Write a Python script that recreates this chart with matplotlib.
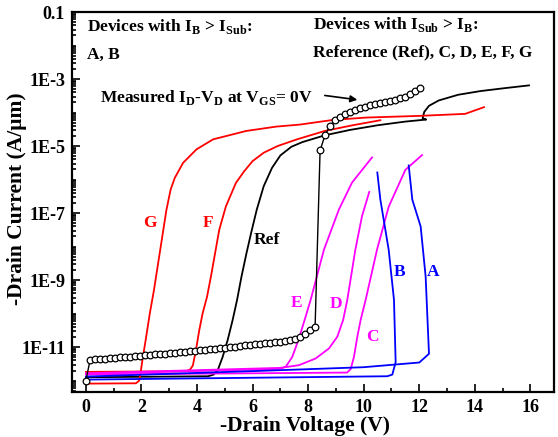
import numpy as np
import matplotlib
matplotlib.use("Agg")
import matplotlib.pyplot as plt
from matplotlib.ticker import LogLocator, FixedLocator, FixedFormatter, NullFormatter

plt.rcParams['font.family'] = ['Liberation Serif', 'DejaVu Serif']
plt.rcParams['font.weight'] = 'bold'
plt.rcParams['mathtext.fontset'] = 'custom'
plt.rcParams['mathtext.rm'] = 'Liberation Serif:bold'
plt.rcParams['mathtext.bf'] = 'Liberation Serif:bold'

# measured Id-Vd at Vgs = 0 V (sweep step 0.18 V)
meas_v = np.concatenate([[0.0], 0.15 + 0.18 * np.arange(67)])
meas_log = [-12.00,
            -11.39, -11.37, -11.36, -11.35, -11.34, -11.32, -11.31, -11.30, -11.29, -11.27,
            -11.26, -11.25, -11.23, -11.22, -11.21, -11.20, -11.18, -11.17, -11.16, -11.14,
            -11.13, -11.12, -11.10, -11.09, -11.07, -11.06, -11.04, -11.03, -11.01, -10.99,
            -10.97, -10.95, -10.93, -10.92, -10.90, -10.89, -10.87, -10.86, -10.85, -10.83,
            -10.80, -10.77, -10.70, -10.60, -10.50, -10.41,
            -5.13, -4.67, -4.40, -4.22, -4.12, -4.04, -3.98, -3.92, -3.87, -3.83,
            -3.79, -3.75, -3.72, -3.69, -3.66, -3.62, -3.58, -3.53, -3.46, -3.37, -3.26]

# simulated devices (log10 of -Id)
ref_v = [0, 4.4, 4.6, 4.75, 4.92, 5.1, 5.28, 5.44, 5.6, 5.78, 5.96, 6.15, 6.4, 6.7, 7.0,
         7.4, 7.8, 8.6, 9.5, 10.5, 11.5, 12.25, 12.12, 12.18, 12.35, 12.7, 13.4, 14.2, 15.1, 15.95]
ref_log = [-11.90, -11.87, -11.82, -11.68, -11.3, -10.8, -10.2, -9.6, -8.9, -8.2, -7.55, -6.9,
           -6.2, -5.65, -5.28, -5.02, -4.88, -4.68, -4.52, -4.38, -4.27, -4.21, -4.17, -3.98,
           -3.80, -3.64, -3.47, -3.36, -3.27, -3.19]

g_v = [0, 1.8, 1.92, 1.98, 2.05, 2.15, 2.3, 2.45, 2.6, 2.75, 2.9, 3.05, 3.2, 3.5, 3.98,
       4.58, 5.77, 6.85, 7.7, 8.9, 10.1, 12.0, 13.65, 14.33]
g_log = [-12.09, -12.08, -12.0, -11.7, -11.3, -10.8, -10.0, -9.3, -8.5, -7.7, -6.9, -6.3,
         -5.95, -5.5, -5.1, -4.8, -4.55, -4.42, -4.36, -4.22, -4.15, -4.10, -4.04, -3.84]

f_v = [0, 3.6, 3.75, 3.85, 3.96, 4.08, 4.2, 4.36, 4.5, 4.65, 4.8, 5.04, 5.4, 5.7, 6.0,
       6.4, 6.9, 7.6, 8.6, 9.6, 10.6]
f_log = [-11.74, -11.72, -11.67, -11.55, -11.1, -10.5, -10.0, -9.5, -8.9, -8.2, -7.5, -6.8,
         -6.1, -5.75, -5.45, -5.2, -5.0, -4.8, -4.55, -4.38, -4.23]

e_v = [0, 7.0, 7.2, 7.43, 7.67, 7.91, 8.09, 8.57, 9.11, 9.58, 10.3]
e_log = [-11.80, -11.65, -11.58, -11.29, -10.74, -10.09, -9.59, -8.09, -6.89, -6.09, -5.34]

d_v = [0, 7.0, 7.67, 8.27, 8.75, 9.05, 9.26, 9.41, 9.7, 9.94, 10.2]
d_log = [-11.78, -11.62, -11.54, -11.34, -11.04, -10.69, -10.19, -9.59, -8.09, -7.09, -6.37]

c_v = [0, 9.4, 9.53, 9.65, 9.77, 9.89, 10.07, 10.48, 10.9, 11.5, 12.1]
c_log = [-11.82, -11.76, -11.66, -11.29, -10.69, -10.19, -9.59, -8.09, -6.81, -5.71, -5.27]

b_v = [0, 10.85, 11.03, 11.15, 11.09, 10.9, 10.6, 10.49]
b_log = [-11.97, -11.87, -11.82, -11.45, -9.59, -8.1, -6.6, -5.79]

a_v = [0, 6.6, 10.0, 12.0, 12.35, 12.23, 12.05, 11.75, 11.62]
a_log = [-11.88, -11.70, -11.60, -11.46, -11.2, -8.9, -7.4, -6.6, -5.58]

fig = plt.figure(figsize=(5.58, 4.37), dpi=100)
ax = fig.add_axes([72 / 558, 45 / 437, 482 / 558, 380 / 437])

def p(v, lg, col):
    ax.plot(v, 10.0 ** np.array(lg), color=col, lw=1.3)

p(ref_v, ref_log, 'black')
p(g_v, g_log, '#ff0000')
p(f_v, f_log, '#ff0000')
p(e_v, e_log, '#ff00ff')
p(d_v, d_log, '#ff00ff')
p(c_v, c_log, '#ff00ff')
p(b_v, b_log, '#0000ff')
p(a_v, a_log, '#0000ff')
ax.plot(meas_v, 10.0 ** np.array(meas_log), color='black', lw=1.0, marker='o',
        ms=4.8, mfc='white', mec='black', mew=0.9, zorder=5)

ax.set_yscale('log')
ax.set_xlim(-0.5, 16.85)
ax.set_ylim(10 ** -12.34, 0.1)

ax.xaxis.set_major_locator(FixedLocator(range(0, 17, 2)))
ax.xaxis.set_minor_locator(FixedLocator(range(1, 17, 2)))
ytk = [1e-11, 1e-9, 1e-7, 1e-5, 1e-3, 1e-1]
ax.yaxis.set_major_locator(FixedLocator(ytk))
ax.yaxis.set_major_formatter(FixedFormatter(['1E-11', '1E-9', '1E-7', '1E-5', '1E-3', '0.1']))
ax.yaxis.set_minor_locator(LogLocator(base=10, subs=np.arange(1, 10), numticks=30))
ax.yaxis.set_minor_formatter(NullFormatter())
ax.tick_params(which='both', direction='in', top=False, right=False, width=1.2)
ax.tick_params(which='major', length=6, labelsize=13, pad=5)
ax.tick_params(which='minor', length=3)
for s in ax.spines.values():
    s.set_linewidth(1.6)

ax.set_xlabel('-Drain Voltage (V)', fontsize=15.5, fontweight='bold', va='top')
ax.set_ylabel('-Drain Current (A/\u03bcm)', fontsize=15.5, fontweight='bold')
ax.xaxis.set_label_coords(0.483, -0.064)
ax.yaxis.set_label_coords(-0.094, 0.51)

def lbl(x, lg, s, col, **kw):
    ax.text(x, 10 ** lg, s, color=col, fontsize=12.5, fontweight='bold',
            ha='center', va='center', **kw)

lbl(2.3, -7.29, 'G', '#ff0000')
lbl(4.4, -7.29, 'F', '#ff0000')
lbl(6.5, -7.79, 'Ref', 'black')
lbl(7.58, -9.69, 'E', '#ff00ff')
lbl(9.01, -9.71, 'D', '#ff00ff')
lbl(10.33, -10.69, 'C', '#ff00ff')
lbl(11.29, -8.77, 'B', '#0000ff')
lbl(12.49, -8.77, 'A', '#0000ff')

tkw = dict(fontsize=12.5, fontweight='bold', ha='left', va='center')
ax.text(0.03, 10 ** -1.42, r'Devices with I$_\mathrm{B}$ > I$_\mathrm{Sub}$:', **tkw)
ax.text(0.03, 10 ** -2.27, 'A, B', **tkw)
ax.text(8.17, 10 ** -1.38, r'Devices with I$_\mathrm{Sub}$ > I$_\mathrm{B}$:', **tkw)
ax.text(8.17, 10 ** -2.20, 'Reference (Ref), C, D, E, F, G', **tkw)
ax.text(0.5, 10 ** -3.55, r'Measured I$_\mathrm{D}$-V$_\mathrm{D}$ at V$_\mathrm{GS}$= 0V', **tkw)
ax.annotate('', xy=(9.87, 10 ** -3.63), xytext=(8.5, 10 ** -3.48),
            arrowprops=dict(arrowstyle='-|>', color='black', lw=1.2, mutation_scale=10))

fig.savefig('out.png', dpi=100)
